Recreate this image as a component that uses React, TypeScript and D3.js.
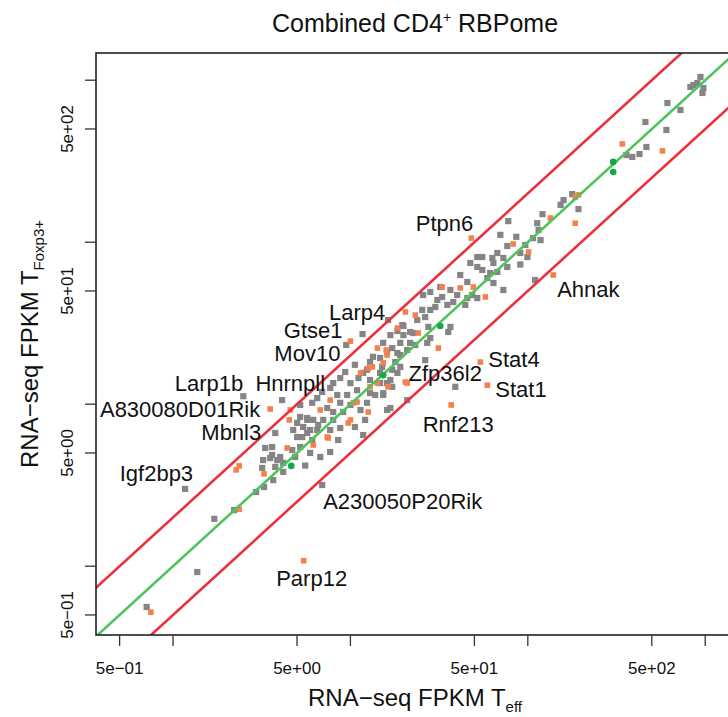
import React from "react";
import * as d3 from "d3";

// FPKM values (T_eff on x, T_Foxp3+ on y)
const grayX = [0.71,1.37,1.71,2.21,1.17,2.94,3.26,3.18,3.77,4.18,3.22,3.62,4.02,3.62,3.77,4.12,2.49,3.31,3.67,3.53,3.87,4.18,4.88,5.21,6.76,7.69,6.93,5.93,5.01,5.71,5.21,5.01,5.42,6.17,7.03,8.0,10.6,8.76,7.69,6.5,5.71,6.09,5.35,4.76,6.5,6.09,5.71,7.4,8.0,9.1,11.4,16.1,8.76,10.0,12.4,9.59,8.43,10.9,10.0,8.0,8.76,12.9,16.1,18.4,12.4,14.7,17.2,17.9,12.9,13.4,19.1,20.9,9.47,11.7,18.4,22.6,19.9,17.2,15.3,16.8,11.8,20.9,76.6,86.1,96.8,107,90.7,99.5,67.3,63.1,64.0,72.8,76.6,51.9,47.4,51.9,55.4,61.4,67.3,59.1,64.0,41.6,45.6,48.6,51.9,45.6,40.0,36.6,32.1,32.9,30.9,28.2,38.0,35.2,30.1,72.8,110,25.7,25.4,26.4,23.8,27.5,36.6,35.6,21.7,19.6,16.8,19.9,28.2,27.1,21.7,19.1,15.3,16.1,18.4,14.7,15.1,19.1,11.8,16.8,14.7,17.2,15.3,12.9,39.0,940,858,825,903,977,965,612,725,604,460,466,426,388,359,178,193,159,153,121,113,115,118,77.6,55.4,
  10.6,9.35,7.69,6.93,5.21,6.58,8.53,12.1,13.8,11.1,23.2,26.4,28.2,44.4,90.7,70.0,4.70,5.56,5.93,16.3];
const grayY = [0.56,0.92,1.96,2.22,3.0,2.87,3.08,4.04,4.1,3.82,4.52,4.86,4.72,5.44,6.64,10.6,11.2,5.37,3.4,4.65,4.52,4.34,4.72,5.44,4.72,5.07,3.17,5.0,6.27,8.0,8.34,7.66,7.23,8.0,8.0,8.0,7.23,7.13,6.93,6.93,6.64,6.01,6.27,6.93,10.9,10.2,8.22,9.47,8.95,8.95,9.21,9.21,10.2,9.89,10.2,11.4,11.4,12.2,13.5,13.5,14.5,14.1,13.5,15.6,16.3,15.6,16.3,18.2,18.2,19.6,20.1,21.6,23.2,27.1,28.3,27.5,30.4,22.2,11.4,9.47,6.45,10.6,94.7,108,96.1,106,85.8,81.0,85.8,79.9,74.4,79.9,70.3,81.0,74.4,70.3,67.4,64.5,65.5,60.1,56.0,62.7,56.8,47.2,45.2,45.2,47.2,50.7,52.9,45.9,44.0,49.3,42.7,41.0,39.8,50.7,58.4,47.2,38.2,34.5,33.1,30.0,30.0,27.9,27.9,30.8,26.7,26.7,25.6,23.9,23.9,23.9,23.9,21.0,20.7,19.3,17.0,17.0,15.6,14.1,13.5,12.8,11.7,11.7,12.8,1047,934,908,961,895,834,723,655,493,552,387,350,336,345,198,160,182,170,149,131,119,103,135,81.0,
  17.5,15.8,12.6,11.9,9.89,7.44,6.01,8.0,11.4,14.5,23.2,18.7,38.2,41.0,72.8,111,5.21,4.18,6.93,33.1];

const orangeX = [0.75,5.45,2.36,2.27,2.36,3.26,4.4,4.52,3.53,4.58,6.17,10.0,7.4,6.76,12.6,7.69,10.9,14.2,20.9,11.4,15.3,14.2,15.9,16.1,10.0,18.4,20.4,23.2,24.1,12.6,16.3,20.4,9.72,10.4,7.5,48.0,82.8,101,41.6,49.3,57.6,31.3,13.3,12.9,54.0,59.1,37.0,341,574,193,185,185,134,32.9,139];
const orangeY = [0.52,1.08,2.25,3.93,4.16,3.71,5.37,8.0,9.34,9.21,5.6,8.0,6.27,9.21,8.95,10.6,10.3,13.5,13.5,15.6,18.0,22.2,21.6,20.1,24.5,29.5,37.1,35.5,27.5,16.7,12.8,13.7,7.66,10.2,6.18,106,97.5,87.0,52.2,52.9,45.9,22.2,17.0,12.8,18.2,13.1,9.89,404,366,196,190,131,141,52.9,62.7];

const greenX = [4.64,15.3,32.1,303,303];
const greenY = [4.16,15.1,30.4,313,271];

// labelled genes: the point each label belongs to
const geneNames = ["Igf2bp3","Parp12","A230050P20Rik","A830080D01Rik","Mbnl3","Larp1b","Hnrnpll","Mov10","Gtse1","Larp4","Ptpn6","Ahnak","Stat4","Stat1","Zfp36l2","Rnf213"];
const geneX = [1.17,5.45,6.93,3.53,4.52,2.49,4.58,10.0,11.7,20.4,48.0,139,54.0,59.1,39.0,37.0];
const geneY = [3.0,1.08,3.17,9.34,8.0,11.2,9.21,24.5,27.1,37.1,106,62.7,18.2,13.1,12.8,9.89];
// label layout (pixel offsets from the point, text anchor)
const geneLayout: [number, number, string][] = [
  [8,-8,"end"],[8,25,"middle"],[1,24,"start"],[-10,8,"end"],[-28,20,"end"],[0,-5,"end"],
  [0,-19,"middle"],[-10,20,"end"],[-20,4,"end"],[-20,8,"end"],[2,-7,"end"],[4,22,"start"],
  [8,5,"start"],[8,12,"start"],[-10,-6,"middle"],[7,27,"middle"]
];

const tickValues = [0.5,1,5,10,50,100,500,1000];
const tickLabels: Record<string, string> = {"0.5":"5e\u221201","5":"5e+00","50":"5e+01","500":"5e+02"};
const foldLines = [1, 2, 0.5];

const W = 728, H = 717;
const L = 96, R = 735, T = 53, B = 635;
const FONT = "'Liberation Sans', Arial, Helvetica, sans-serif";

export default function App() {
  const x = d3.scaleLog().domain([0.368, 1472]).range([L, R]);
  const y = d3.scaleLog().domain([0.376, 1472]).range([B, T]);
  const dom: [number, number] = [0.2, 3000];
  const sq = 6.2;
  const so = 5.6;
  return (
    <svg width={W} height={H} style={{ position: "absolute", left: 0, top: 0, background: "#fff" }} fontFamily={FONT}>
      <defs>
        <clipPath id="plotclip"><rect x={L} y={T} width={R - L} height={B - T} /></clipPath>
      </defs>
      <text x={415} y={32} textAnchor="middle" fontSize={25} fill="#111">
        Combined CD4<tspan fontSize={14} dy={-10}>+</tspan><tspan dy={10}> RBPome</tspan>
      </text>
      <g clipPath="url(#plotclip)">
        {grayX.map((v, i) => (
          <rect key={"g" + i} x={x(v) - sq / 2} y={y(grayY[i]) - sq / 2} width={sq} height={sq} fill="#858585" />
        ))}
        {orangeX.map((v, i) => (
          <rect key={"o" + i} x={x(v) - so / 2} y={y(orangeY[i]) - so / 2} width={so} height={so} fill="#f5804f" />
        ))}
        {foldLines.map((f, i) => (
          <line key={"l" + i} x1={x(dom[0])} y1={y(dom[0] * f)} x2={x(dom[1])} y2={y(dom[1] * f)}
            stroke={f === 1 ? "#4fc45a" : "#ec2f3b"} strokeWidth={2.6} />
        ))}
        {greenX.map((v, i) => (
          <circle key={"G" + i} cx={x(v)} cy={y(greenY[i])} r={3.3} fill="#14a84a" />
        ))}
      </g>
      <rect x={L} y={T} width={R - L} height={B - T} fill="none" stroke="#222" strokeWidth={1.6} />
      {tickValues.map((v) => (
        <g key={"xt" + v}>
          <line x1={x(v)} x2={x(v)} y1={B} y2={B + 11} stroke="#333" strokeWidth={1.3} />
          {tickLabels[String(v)] && (
            <text x={x(v)} y={674} textAnchor="middle" fontSize={17} fill="#111">{tickLabels[String(v)]}</text>
          )}
        </g>
      ))}
      {tickValues.map((v) => (
        <g key={"yt" + v}>
          <line x1={L - 11} x2={L} y1={y(v)} y2={y(v)} stroke="#333" strokeWidth={1.3} />
          {tickLabels[String(v)] && (
            <text transform={`translate(73,${y(v)}) rotate(-90)`} textAnchor="middle" fontSize={17} fill="#111">{tickLabels[String(v)]}</text>
          )}
        </g>
      ))}
      <text x={415} y={706} textAnchor="middle" fontSize={24} fill="#111">
        RNA{"\u2212"}seq FPKM T<tspan fontSize={15} dy={6}>eff</tspan>
      </text>
      <text transform={`translate(38,344) rotate(-90)`} textAnchor="middle" fontSize={24} fill="#111">
        RNA{"\u2212"}seq FPKM T<tspan fontSize={15} dy={6}>Foxp3+</tspan>
      </text>
      {geneNames.map((n, i) => (
        <text key={n} x={x(geneX[i]) + geneLayout[i][0]} y={y(geneY[i]) + geneLayout[i][1]}
          textAnchor={geneLayout[i][2] as any} fontSize={22} fill="#111">{n}</text>
      ))}
    </svg>
  );
}
